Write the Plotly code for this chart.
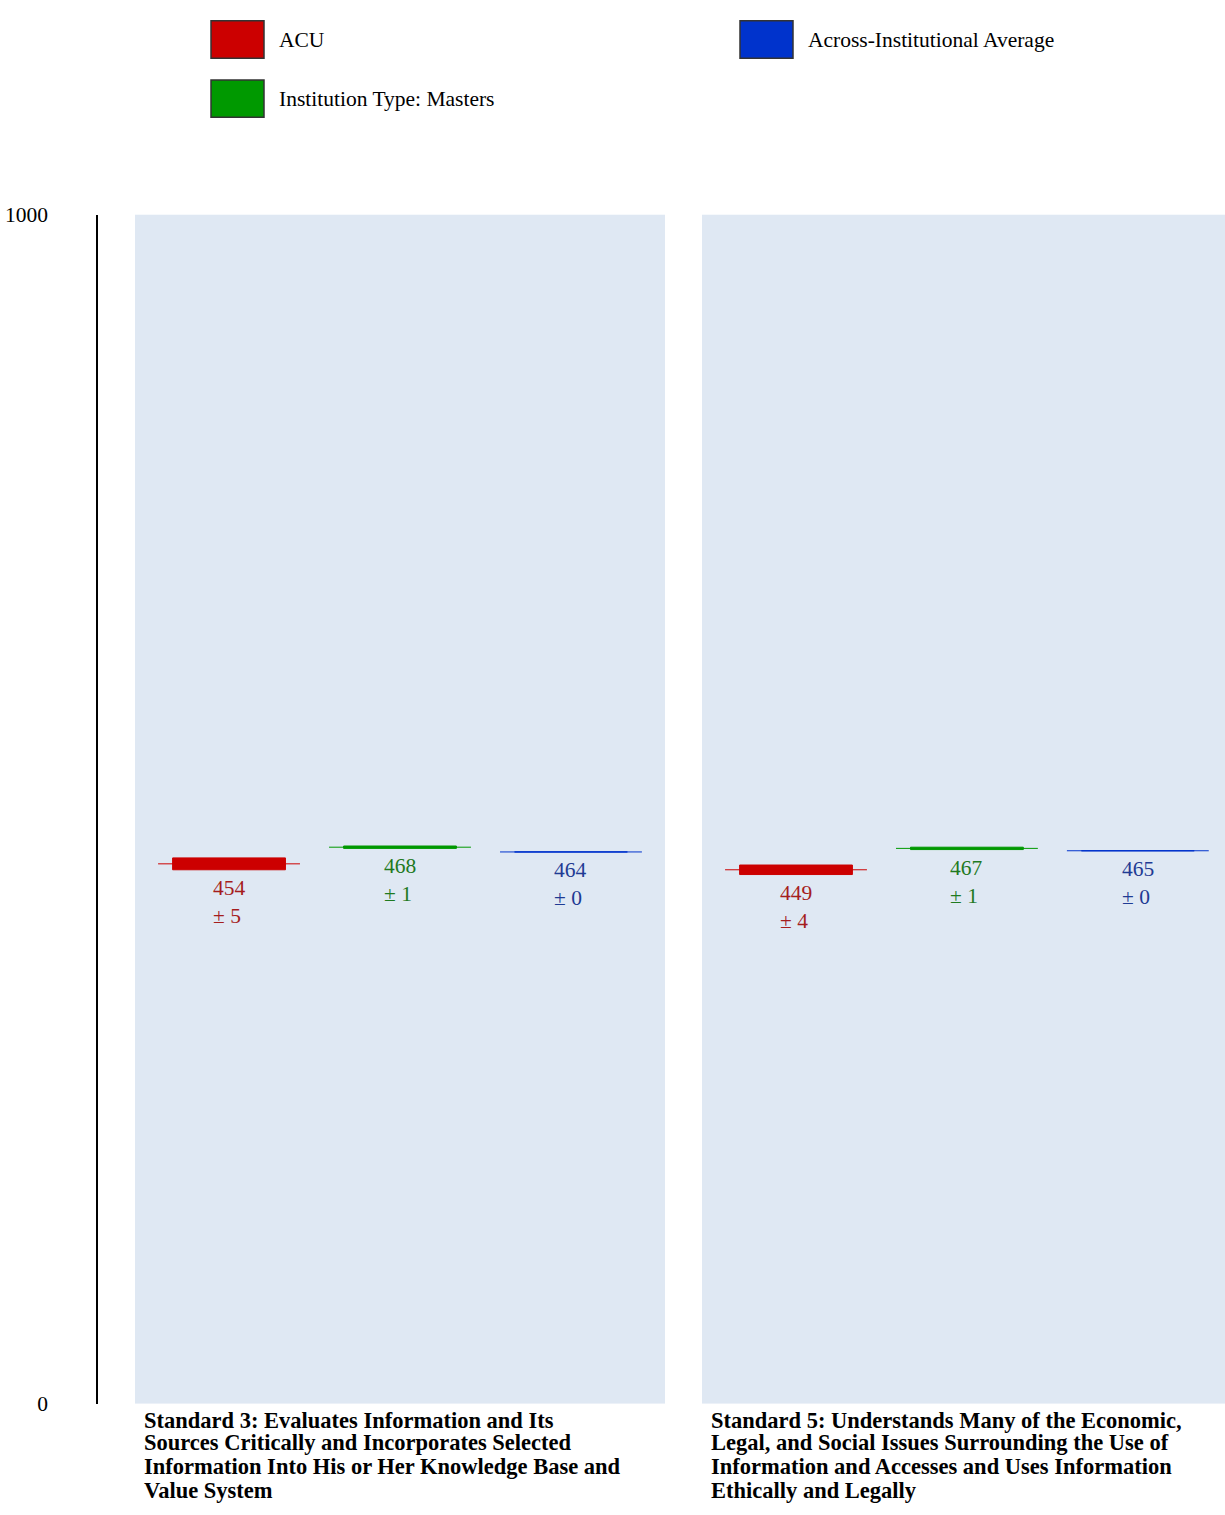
import plotly.graph_objects as go

W, H = 1225, 1515

# ---- data ----
series_names = ["ACU", "Institution Type: Masters", "Across-Institutional Average"]
bar_colors = ["#cc0000", "#009900", "#0033cc"]
text_colors = ["#a51d1d", "#1f7a1f", "#1f3b94"]

std3_means = [454, 468, 464]
std3_errs = [5, 1, 0]
std5_means = [449, 467, 465]
std5_errs = [4, 1, 0]

std3_label = ["Standard 3: Evaluates Information and Its",
              "Sources Critically and Incorporates Selected",
              "Information Into His or Her Knowledge Base and",
              "Value System"]
std5_label = ["Standard 5: Understands Many of the Economic,",
              "Legal, and Social Issues Surrounding the Use of",
              "Information and Accesses and Uses Information",
              "Ethically and Legally"]

y_ticks = [0, 1000]
positions = [0, 1, 2]

FONT = "Liberation Serif, Times New Roman, serif"

fig = go.Figure()

panels = [("x", std3_means, std3_errs), ("x2", std5_means, std5_errs)]
annotations = []
for xa, means, errs in panels:
    for i, (m, e) in enumerate(zip(means, errs)):
        # thin whisker line at mean
        fig.add_trace(go.Scatter(
            x=[positions[i] - 0.415, positions[i] + 0.415], y=[m, m],
            xaxis=xa, yaxis="y", mode="lines",
            line=dict(color=bar_colors[i], width=1), showlegend=False,
            hoverinfo="skip"))
        # box: mean +/- err
        fig.add_trace(go.Bar(
            x=[positions[i]], y=[2 * e], base=[m - e], width=0.66,
            xaxis=xa, yaxis="y",
            marker=dict(color=bar_colors[i], line=dict(color=bar_colors[i], width=1)),
            showlegend=False, name=series_names[i]))
        annotations.append(dict(
            x=positions[i], y=m - e, xref=xa, yref="y",
            text=f"{m}<br>± {e}", showarrow=False, align="left",
            xanchor="center", yanchor="top", yshift=-4,
            font=dict(family=FONT, size=21.5, color=text_colors[i])))

# category labels under panels
line_y = [1432, 1455, 1479, 1503]
for xa, lines in [("x domain", std3_label), ("x2 domain", std5_label)]:
    for ly, t in zip(line_y, lines):
        annotations.append(dict(
            x=0, xref=xa, xshift=7, y=1 - ly / H, yref="paper",
            text=f"<b>{t}</b>", showarrow=False, xanchor="left", yanchor="middle",
            font=dict(family=FONT, size=22.5, color="#000000")))

# legend (boxes + labels)
legend_pos = [(211, 10), (211, 70), (740, 10)]
shapes = []
for (lx, ly), name, col in zip(legend_pos, series_names, bar_colors):
    shapes.append(dict(type="rect", xref="paper", yref="paper",
                       x0=lx / W, x1=(lx + 53) / W, y0=1 - ly / H, y1=1 - (ly + 38) / H,
                       fillcolor=col, line=dict(color="#333333", width=1.5)))
    annotations.append(dict(
        x=(lx + 66) / W, y=1 - (ly + 19) / H, xref="paper", yref="paper",
        text=name, showarrow=False, xanchor="left", yanchor="middle",
        font=dict(family=FONT, size=21.5, color="#000000")))

ydom = [1 - 1415 / H, 1 - 207 / H]
fig.update_layout(
    width=W, height=H, margin=dict(l=0, r=0, t=0, b=0),
    paper_bgcolor="white", plot_bgcolor="#dfe8f3",
    barmode="overlay", showlegend=False,
    font=dict(family=FONT, size=21.5, color="#000000"),
    xaxis=dict(domain=[135 / W, 665 / W], range=[-0.55, 2.55], anchor="y",
               visible=False, fixedrange=True),
    xaxis2=dict(domain=[702 / W, 1], range=[-0.55, 2.51], anchor="y",
                visible=False, fixedrange=True),
    yaxis=dict(domain=ydom, range=[0, 1000], anchor="free", position=97 / W,
               showline=True, linecolor="#000000", linewidth=1.5,
               showgrid=False, zeroline=False, tickvals=y_ticks,
               ticktext=[str(v) for v in y_ticks], ticks="",
               ticklabelstandoff=44, fixedrange=True,
               tickfont=dict(family=FONT, size=21.5, color="#000000")),
    annotations=annotations, shapes=shapes,
)

post = (
    "document.documentElement.style.margin='0px';"
    "document.body.style.margin='0px';"
    "document.body.style.overflow='hidden';"
)
fig.write_html("out.html", config={"displayModeBar": False}, post_script=post)
